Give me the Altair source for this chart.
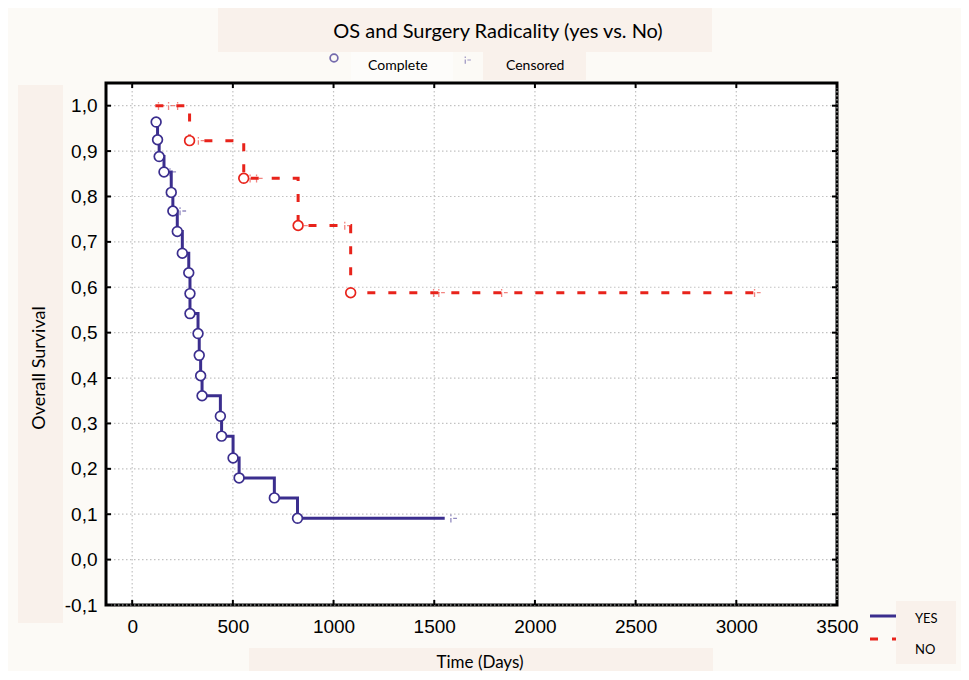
import altair as alt
import pandas as pd

# ---------------- data ----------------
# YES group (radical surgery): event times (days) and survival after each event
yes_event_days = [119, 126, 134, 158, 194, 202, 224, 249, 281, 287, 287, 327, 333,
                  340, 347, 438, 444, 501, 531, 706, 821]
yes_event_surv = [0.964, 0.925, 0.888, 0.854, 0.809, 0.768, 0.723, 0.675, 0.632,
                  0.586, 0.542, 0.498, 0.450, 0.405, 0.361, 0.316, 0.272, 0.224,
                  0.180, 0.136, 0.091]
yes_end_day = 1552
yes_cens_days = [197, 247, 844, 1592]
yes_cens_surv = [0.854, 0.768, 0.091, 0.091]

# NO group
no_start_day = 115
no_event_days = [285, 554, 824, 1085]
no_event_surv = [0.923, 0.840, 0.736, 0.588]
no_end_day = 3134
no_cens_days = [140, 190, 235, 338, 595, 627, 851, 1065, 1506, 1532, 1844, 3100]
no_cens_surv = [1.0, 1.0, 1.0, 0.923, 0.840, 0.840, 0.736, 0.736,
                0.588, 0.588, 0.588, 0.588]

x_ticks = [0, 500, 1000, 1500, 2000, 2500, 3000, 3500]
y_ticks = [-0.1, 0.0, 0.1, 0.2, 0.3, 0.4, 0.5, 0.6, 0.7, 0.8, 0.9, 1.0]

groups = ["YES", "NO"]
colors = ["#3b2e8e", "#e8231b"]

# ---------------- tables ----------------
line_rows = []
for d, s in zip(yes_event_days, yes_event_surv):
    line_rows.append({"group": "YES", "day": d, "surv": s})
line_rows.append({"group": "YES", "day": yes_end_day, "surv": yes_event_surv[-1]})
line_rows.append({"group": "NO", "day": no_start_day, "surv": 1.0})
for d, s in zip(no_event_days, no_event_surv):
    line_rows.append({"group": "NO", "day": d, "surv": s})
line_rows.append({"group": "NO", "day": no_end_day, "surv": no_event_surv[-1]})
lines_df = pd.DataFrame(line_rows)
lines_df["order"] = range(len(lines_df))

events_df = pd.DataFrame(
    [{"group": "YES", "day": d, "surv": s} for d, s in zip(yes_event_days, yes_event_surv)]
    + [{"group": "NO", "day": d, "surv": s} for d, s in zip(no_event_days, no_event_surv)]
)
cens_df = pd.DataFrame(
    [{"group": "YES", "day": d, "surv": s} for d, s in zip(yes_cens_days, yes_cens_surv)]
    + [{"group": "NO", "day": d, "surv": s} for d, s in zip(no_cens_days, no_cens_surv)]
)
xt_df = pd.DataFrame({"day": x_ticks})
yt_df = pd.DataFrame({"surv": y_ticks})
one = pd.DataFrame({"k": [0]})

W, H = 731, 522
LABEL_FONT = "Liberation Sans"
TEXT_FONT = "Lato"
BOX = "#f9f1eb"

xscale = alt.Scale(domain=[-130, 3500], nice=False, zero=False)
yscale = alt.Scale(domain=[-0.1, 1.05], nice=False, zero=False)
cscale = alt.Scale(domain=groups, range=colors)
dscale = alt.Scale(domain=groups, range=[[1, 0], [8, 13]])

x_axis = alt.Axis(values=x_ticks, grid=False, domain=False, ticks=False, labelPadding=12,
                  labelFont=LABEL_FONT, labelFontSize=19, labelColor="black",
                  labelFlush=False, labelOverlap=False, format="d", title=None)
y_axis = alt.Axis(values=y_ticks, grid=False, domain=False, ticks=False, labelPadding=9,
                  labelFont=LABEL_FONT, labelFontSize=19, labelColor="black",
                  labelOverlap=False, labelFlush=False, title=None,
                  labelExpr="replace(replace(format(datum.value, '.1f'), '.', ','), '\u2212', '-')")


def X():
    return alt.X("day:Q", scale=xscale, axis=x_axis, title=None)


def Y():
    return alt.Y("surv:Q", scale=yscale, axis=y_axis, title=None)


def rect(x, x2, y, y2, color):
    return alt.Chart(one).mark_rect(color=color).encode(
        x=alt.value(x), x2=alt.value(x2), y=alt.value(y), y2=alt.value(y2))


def text(t, x, y, size, align="center", angle=0, font=TEXT_FONT):
    return alt.Chart(one).mark_text(
        text=t, font=font, fontSize=size, align=align, baseline="middle",
        angle=angle, color="black").encode(x=alt.value(x), y=alt.value(y))


# decoration panels
boxes = [
    rect(112, 606, -76, -31, BOX),          # title panel
    rect(245, 347, -31, -3, "#fdfcfa"),     # "Complete" panel
    rect(377, 480, -31, -3, BOX),           # "Censored" panel
    rect(-88, -43, 2, 540, BOX),            # y title panel
    rect(143, 607, 565, 600, BOX),          # x title panel
    rect(790, 850, 518, 581, BOX),          # group legend panel
]

# dotted grid at the tick values
grid_style = dict(color="#c2c2c2", strokeWidth=1.2, strokeDash=[1.5, 2.5])
grid = [
    alt.Chart(xt_df).mark_rule(**grid_style).encode(x=X(), y=alt.value(0), y2=alt.value(H)),
    alt.Chart(yt_df).mark_rule(**grid_style).encode(y=Y(), x=alt.value(0), x2=alt.value(W)),
]

# data layers
lines = alt.Chart(lines_df).mark_line(interpolate="step-after", strokeWidth=3).encode(
    x=X(), y=Y(),
    color=alt.Color("group:N", scale=cscale, legend=None),
    strokeDash=alt.StrokeDash("group:N", scale=dscale, legend=None),
    detail="group:N",
    order="order:Q",
)

cens_shape = "M -0.45 -0.9 L -0.45 -0.5 M -0.45 -0.1 L -0.45 1 M 0.1 0 L 1 0"
cens = alt.Chart(cens_df).mark_point(shape=cens_shape, size=70, strokeWidth=1.3,
                                     opacity=0.55, filled=False).encode(
    x=X(), y=Y(),
    color=alt.Color("group:N", scale=cscale, legend=None),
)

events = alt.Chart(events_df).mark_point(shape="circle", size=95, strokeWidth=1.7,
                                         fill="white", fillOpacity=1, filled=False).encode(
    x=X(), y=Y(),
    stroke=alt.Stroke("group:N", scale=cscale, legend=None),
)

# inward frame ticks
tick_style = dict(color="black", strokeWidth=2)
ticks = [
    alt.Chart(xt_df).mark_rule(**tick_style).encode(
        x=X(), y=alt.value(H), y2=alt.value(H - 5)),
    alt.Chart(xt_df).mark_rule(**tick_style).encode(
        x=X(), y=alt.value(0), y2=alt.value(5)),
    alt.Chart(yt_df).mark_rule(**tick_style).encode(
        y=Y(), x=alt.value(0), x2=alt.value(5)),
    alt.Chart(yt_df).mark_rule(**tick_style).encode(
        y=Y(), x=alt.value(W), x2=alt.value(W - 5)),
]

# texts
texts = [
    text("OS and Surgery Radicality (yes vs. No)", 392, -51, 20),
    text("Complete", 262, -17, 14, align="left"),
    text("Censored", 400, -17, 14, align="left"),
    text("Overall Survival", -66, 285, 18, angle=270),
    text("Time (Days)", 374, 580, 17),
    text("YES", 809, 536, 13, align="left"),
    text("NO", 809, 567, 13, align="left"),
]

# legend symbols
leg = [
    alt.Chart(one).mark_point(shape="circle", size=60, strokeWidth=1.7, filled=False,
                              color=colors[0]).encode(x=alt.value(228), y=alt.value(-25)),
    alt.Chart(one).mark_point(shape=cens_shape, size=60, strokeWidth=1.2, opacity=0.5,
                              filled=False, color=colors[0]).encode(
        x=alt.value(361), y=alt.value(-23)),
    alt.Chart(one).mark_rule(color=colors[0], strokeWidth=3).encode(
        x=alt.value(764), x2=alt.value(790), y=alt.value(533)),
    alt.Chart(one).mark_rule(color=colors[1], strokeWidth=3, strokeDash=[8, 14]).encode(
        x=alt.value(764), x2=alt.value(790), y=alt.value(556)),
]

chart = alt.layer(*grid, lines, *boxes, cens, events, *ticks, *texts, *leg).properties(
    width=W, height=H,
    background="#fcfaf6",
    padding={"left": 98, "top": 75, "right": 124, "bottom": 66},
    autosize=alt.AutoSizeParams(type="none"),
).configure_view(fill="white", stroke="black", strokeWidth=3)

chart.save("out.html", embed_options={"renderer": "svg", "actions": False})
